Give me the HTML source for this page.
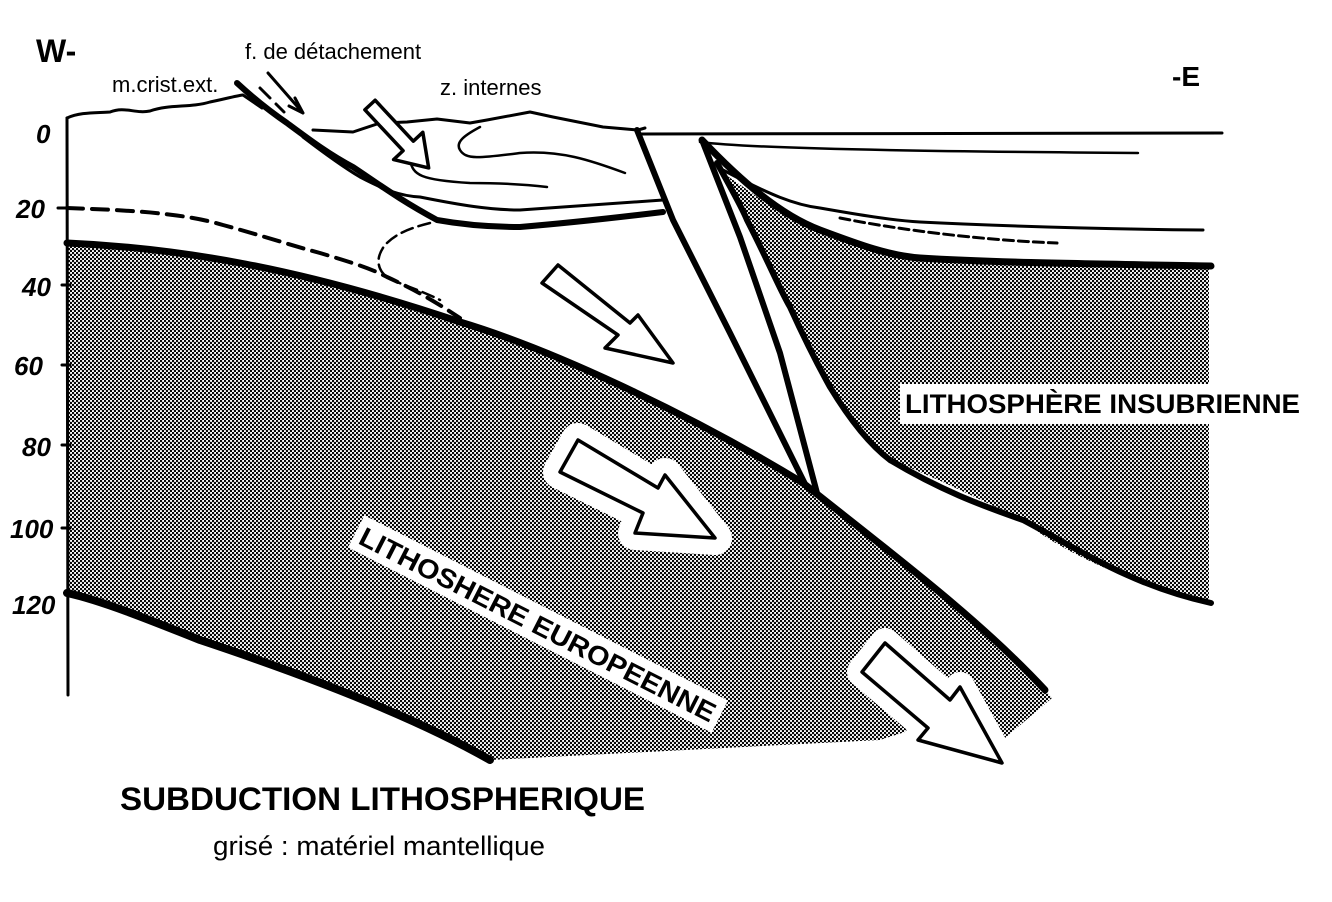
<!DOCTYPE html>
<html><head><meta charset="utf-8"><style>
html,body{margin:0;padding:0;background:#fff;}
svg{display:block;}
text{font-family:"Liberation Sans",sans-serif;}
</style></head><body>
<svg width="1332" height="902" viewBox="0 0 1332 902" xmlns="http://www.w3.org/2000/svg">
<defs>
<pattern id="dots" width="4" height="4" patternUnits="userSpaceOnUse">
<rect width="4" height="4" fill="#fff"/>
<circle cx="1" cy="1" r="1.2" fill="#000"/><circle cx="3" cy="3" r="1.2" fill="#000"/>
</pattern>
</defs>
<rect width="1332" height="902" fill="#fff"/>

<!-- European lithosphere gray -->
<path d="M67,243 C180,248 300,268 460,322 C560,352 700,420 803,483 C900,560 980,620 1045,690 L1052,698 L1005,738 L905,732 L880,740 L490,760 C420,720 320,680 200,640 C150,620 100,600 67,593 Z" fill="url(#dots)"/>
<!-- Insubrian gray -->
<path d="M723,173 C770,205 790,222 820,230 C860,245 890,256 920,258 C1000,263 1100,264 1209,265 L1209,603 C1130,585 1050,545 1023,520 C960,490 930,475 890,460 C860,430 845,410 830,387 C810,350 800,330 790,307 C770,265 760,245 747,220 Z" fill="url(#dots)"/>

<g fill="none" stroke="#000" stroke-linecap="round" stroke-linejoin="round">
<path d="M67,118 L68,695" stroke-width="3"/>
<path d="M58,208 L74,208 M62,285 L70,285 M62,365 L70,365 M62,445 L70,445 M62,528 L70,528" stroke-width="3"/>
<path d="M67,118 C80,112 95,113 110,112 C125,106 135,114 150,111 C170,104 190,108 210,102 C225,99 235,96 243,95 L262,108" stroke-width="3"/>
<path d="M313,130 L353,132 L380,123 L407,122 L437,119 L470,123 L487,120 L530,112 L553,117 L603,127 L638,130 L645,128" stroke-width="3"/>
<path d="M640,134 L1222,133" stroke-width="3"/>
<path d="M700,142 C760,150 1000,152 1138,153" stroke-width="2.5"/>
<path d="M237,83 C250,95 268,110 287,123 C310,140 330,155 353,167 C380,185 400,200 437,220 C470,226 500,227 520,227 C580,222 630,216 663,212" stroke-width="6"/>
<path d="M303,137 C320,150 340,165 360,177 C385,190 400,196 420,197 C460,205 490,210 520,210 C580,206 630,202 663,200" stroke-width="3"/>
<path d="M268,73 L303,113 M295,98 L303,113 L289,106" stroke-width="3"/>
<path d="M260,88 L270,98 M276,104 L284,112" stroke-width="3"/>
<path d="M410,160 C413,175 420,180 470,183 C500,183 530,185 547,187" stroke-width="2.5"/>
<path d="M480,127 C465,135 455,142 460,150 C466,160 480,158 520,153 C560,150 590,160 625,173" stroke-width="2.5"/>
<path d="M67,208 C120,210 180,212 223,225 C260,235 290,245 320,253 C350,262 370,268 387,277 C420,292 440,305 460,318" stroke-width="4" stroke-dasharray="16,9"/>
<path d="M430,223 C410,228 395,234 385,245 C375,258 377,270 388,278 C400,284 420,290 440,300" stroke-width="2.5" stroke-dasharray="12,6"/>
<path d="M67,243 C180,248 300,268 460,322 C560,352 700,420 803,483 C900,560 980,620 1045,690" stroke-width="7"/>
<path d="M67,593 C100,600 150,620 200,640 C320,680 420,720 490,760" stroke-width="8"/>
<!-- slab band -->
<path d="M637,130 L673,220 L730,333 L806,486" stroke-width="6"/>
<path d="M702,140 L740,237 L780,353 L817,493" stroke-width="6"/>
<!-- Insubrian -->
<path d="M702,140 C740,180 780,215 820,230 C860,245 890,256 920,258 C1000,263 1100,264 1211,266" stroke-width="7"/>
<path d="M723,170 C770,195 795,205 820,208 C860,215 890,220 920,222 C1000,226 1100,229 1203,230" stroke-width="3"/>
<path d="M840,218 C900,230 980,240 1057,243" stroke-width="3" stroke-dasharray="10,5"/>
<path d="M717,163 C735,195 745,215 747,220 C770,265 780,290 790,307 C805,340 815,360 830,387 C850,420 870,445 890,460 C940,490 980,505 1023,520 C1080,550 1130,585 1211,603" stroke-width="6"/>
</g>

<!-- block arrows -->
<g stroke-linejoin="round">
<polygon points="578,440 658,488 665,475 715,538 635,533 643,513 560,472" fill="#fff" stroke="#fff" stroke-width="34"/>
<polygon points="885,643 950,700 960,687 1002,763 918,740 928,728 862,672" fill="#fff" stroke="#fff" stroke-width="30"/>
<g fill="#fff" stroke="#000" stroke-width="3.5">
<g transform="translate(370,105) rotate(47)"><polygon points="0,-7 56,-7 56,-20 86,0 56,20 56,7 0,7"/></g>
<polygon points="558,265 630,323 638,315 673,363 605,348 618,335 542,283"/>
<polygon points="578,440 658,488 665,475 715,538 635,533 643,513 560,472"/>
<polygon points="885,643 950,700 960,687 1002,763 918,740 928,728 862,672"/>
</g>
</g>

<!-- labels -->
<text x="36" y="62" font-size="32" font-weight="bold">W-</text>
<text x="1172" y="86" font-size="28" font-weight="bold">-E</text>
<text x="112" y="92" font-size="22">m.crist.ext.</text>
<text x="245" y="59" font-size="22">f. de détachement</text>
<text x="440" y="95" font-size="22">z. internes</text>
<g font-family="Liberation Serif,serif" font-style="italic" font-weight="bold" font-size="26">
<text x="36" y="143">0</text>
<text x="16" y="218">20</text>
<text x="22" y="296">40</text>
<text x="14" y="375">60</text>
<text x="22" y="456">80</text>
<text x="10" y="538">100</text>
<text x="12" y="614">120</text>
</g>
<rect x="900" y="384" width="412" height="40" fill="#fff"/>
<text x="905" y="413" font-size="27" font-weight="bold" textLength="395" lengthAdjust="spacingAndGlyphs">LITHOSPHÈRE INSUBRIENNE</text>
<g transform="translate(357,543) rotate(27)">
<rect x="-6" y="-28" width="408" height="36" fill="#fff"/>
<text x="0" y="0" font-size="27" font-weight="bold" textLength="396" lengthAdjust="spacingAndGlyphs">LITHOSHERE EUROPEENNE</text>
</g>
<text x="120" y="810" font-size="32" font-weight="bold" textLength="525" lengthAdjust="spacingAndGlyphs">SUBDUCTION LITHOSPHERIQUE</text>
<text x="213" y="855" font-size="27" textLength="332" lengthAdjust="spacingAndGlyphs">grisé : matériel mantellique</text>
</svg>
</body></html>
